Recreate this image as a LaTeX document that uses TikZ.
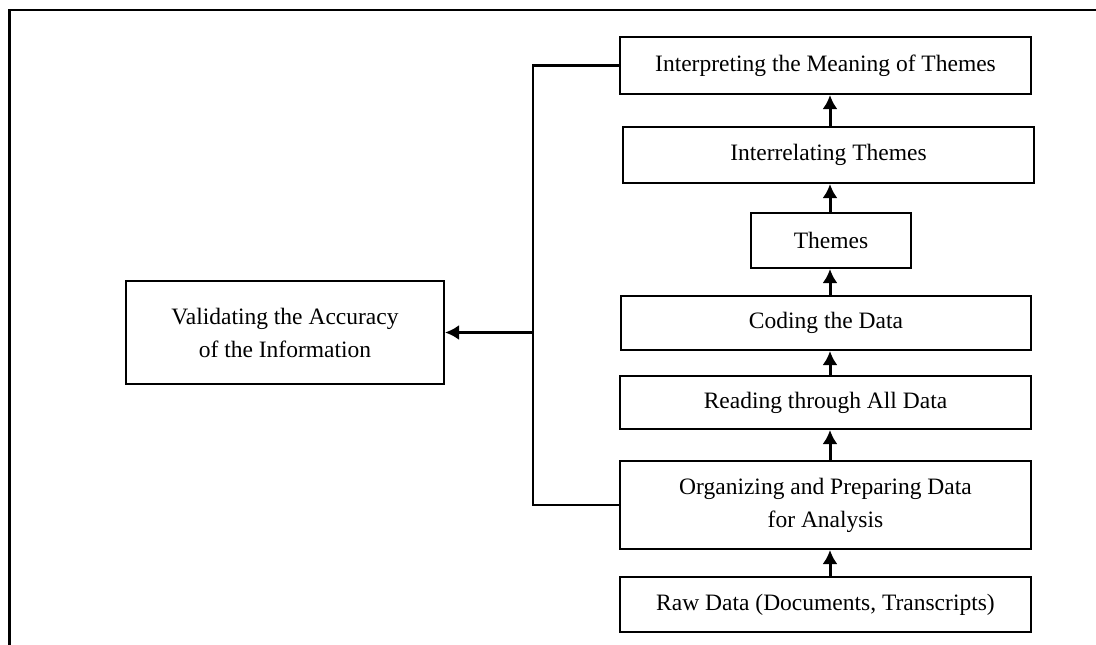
\documentclass[tikz,border=0pt]{standalone}
\usepackage{fontspec}
\setmainfont{Liberation Serif}
\usetikzlibrary{arrows.meta}
\begin{document}
\begin{tikzpicture}[x=1pt,y=-1pt,
  box/.style={draw,line width=2pt,inner sep=0pt,align=center,
    font=\fontsize{23.5}{33}\selectfont},
  link/.style={line width=2.2pt},
  arr/.style={line width=3pt,-{Latex[length=14pt,width=15pt]}}]
\useasboundingbox (0,0) rectangle (1096,645);
\draw[line width=2.2pt] (9.5,645) -- (9.5,10) -- (1096,10);
\node[box,minimum width=411pt,minimum height=57pt] (interp) at (825.5,65.5) {Interpreting the Meaning of Themes};
\node[box,minimum width=411pt,minimum height=56pt] (interrel) at (828.5,155) {Interrelating Themes};
\node[box,minimum width=160pt,minimum height=55pt] (themes) at (831,240.5) {Themes};
\node[box,minimum width=410pt,minimum height=54pt] (coding) at (826,323) {Coding the Data};
\node[box,minimum width=411pt,minimum height=53pt] (reading) at (825.5,402.5) {Reading through All Data};
\node[box,minimum width=411pt,minimum height=88pt] (organ) at (825.5,505) {Organizing and Preparing Data\\for Analysis};
\node[box,minimum width=411pt,minimum height=55pt] (raw) at (825.5,604.5) {Raw Data (Documents, Transcripts)};
\node[box,minimum width=318pt,minimum height=103pt] (valid) at (285,332.5) {Validating the Accuracy\\of the Information};
\coordinate (ax) at (830,0);
\coordinate (vx) at (533,0);
\draw[arr] (raw.north -| ax) -- (organ.south -| ax);
\draw[arr] (organ.north -| ax) -- (reading.south -| ax);
\draw[arr] (reading.north -| ax) -- (coding.south -| ax);
\draw[arr] (coding.north -| ax) -- (themes.south -| ax);
\draw[arr] (themes.north -| ax) -- (interrel.south -| ax);
\draw[arr] (interrel.north -| ax) -- (interp.south -| ax);
\draw[link] (interp.west) -- (interp.west -| vx) -- (organ.west -| vx) -- (organ.west);
\draw[arr] (valid.east -| vx) -- (valid.east);
\end{tikzpicture}
\end{document}
